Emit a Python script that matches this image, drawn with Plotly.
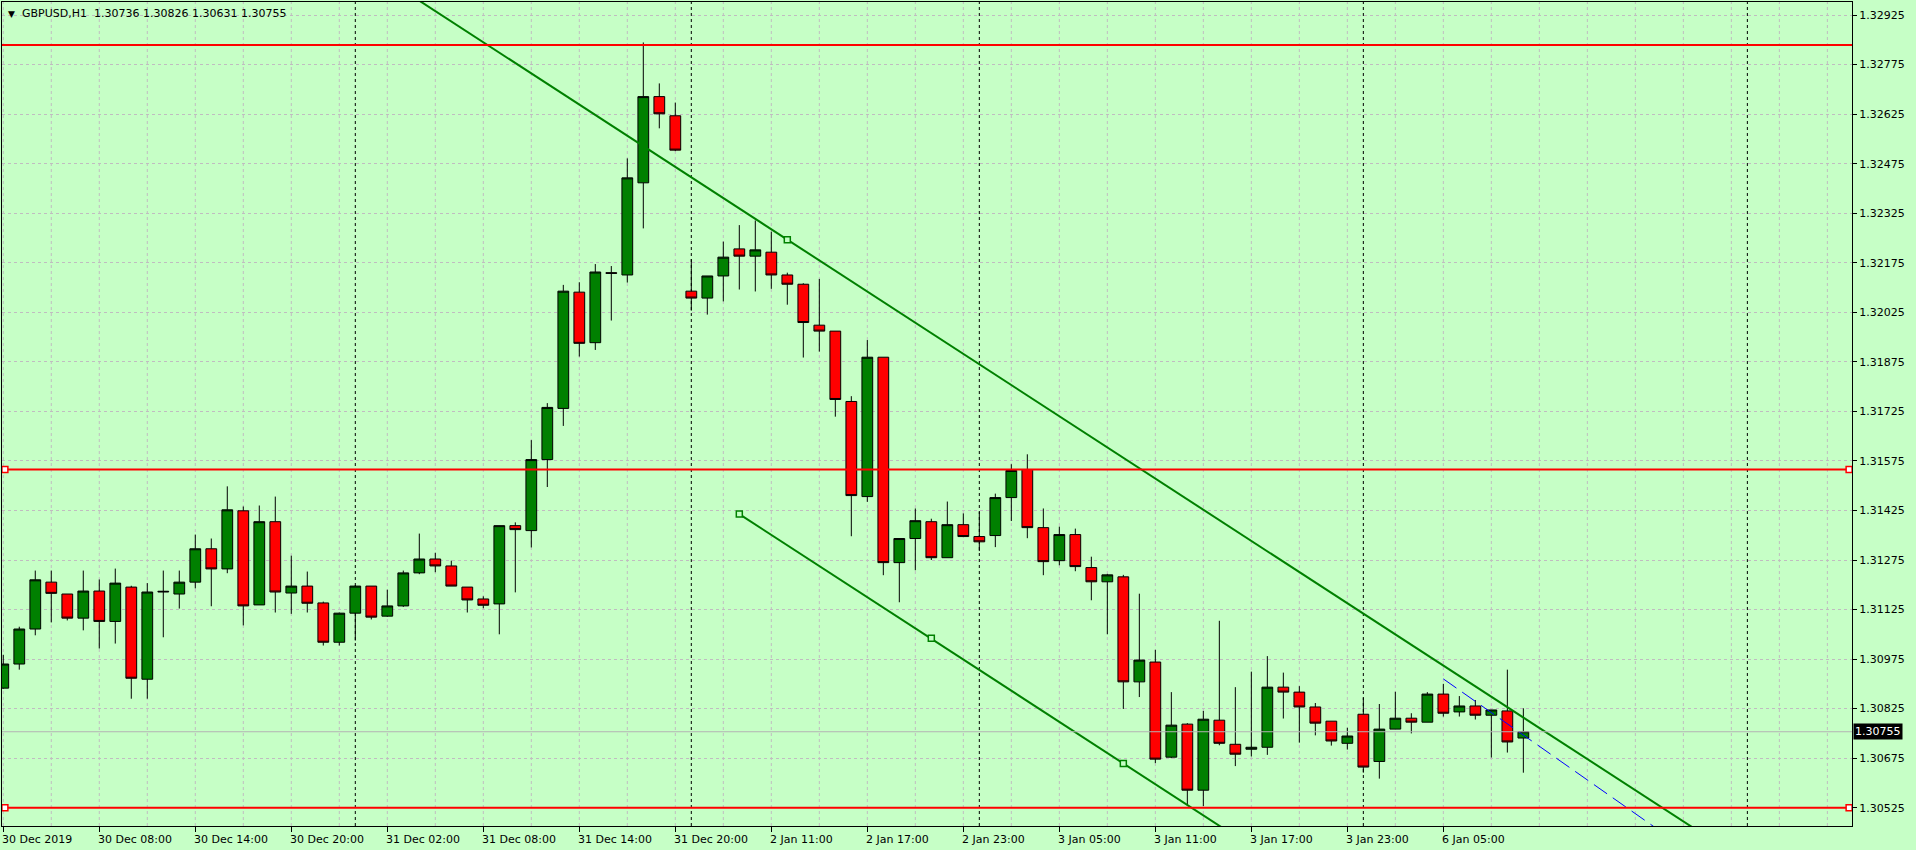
import plotly.graph_objects as go
import pandas as pd

# ---------------- data ----------------
symbol = "GBPUSD,H1"
# trading sessions: (first bar time, number of hourly bars)
sessions = [("2019-12-30 02:00", 22), ("2019-12-31 00:00", 21), ("2020-01-02 06:00", 18),
            ("2020-01-03 00:00", 24), ("2020-01-06 00:00", 11)]

open_ = [1.30887, 1.30960, 1.31066, 1.31208, 1.31172, 1.31099, 1.31181, 1.31089, 1.31193, 1.30914,
         1.31178, 1.31172, 1.31208, 1.31309, 1.31248, 1.31424, 1.31139, 1.31391, 1.31175, 1.31196,
         1.31145, 1.31026, 1.31114, 1.31196, 1.31105, 1.31136, 1.31236, 1.31278, 1.31257, 1.31193,
         1.31157, 1.31142, 1.31379, 1.31364, 1.31579, 1.31734, 1.32086, 1.31933, 1.32145, 1.32138,
         1.32417, 1.32678, 1.32620, 1.32089, 1.32068, 1.32135, 1.32217, 1.32195, 1.32207, 1.32138,
         1.32110, 1.31986, 1.31968, 1.31755, 1.31467, 1.31889, 1.31267, 1.31340, 1.31391, 1.31282,
         1.31382, 1.31346, 1.31349, 1.31464, 1.31549, 1.31373, 1.31273, 1.31352, 1.31252, 1.31209,
         1.31224, 1.30906, 1.30966, 1.30678, 1.30778, 1.30578, 1.30790, 1.30717, 1.30702, 1.30708,
         1.30890, 1.30875, 1.30830, 1.30787, 1.30720, 1.30808, 1.30665, 1.30763, 1.30796, 1.30784,
         1.30869, 1.30815, 1.30833, 1.30805, 1.30818, 1.30736]
high = [1.30988, 1.31073, 1.31243, 1.31243, 1.31172, 1.31243, 1.31216, 1.31249, 1.31197, 1.31205,
        1.31243, 1.31243, 1.31352, 1.31340, 1.31498, 1.31437, 1.31440, 1.31467, 1.31288, 1.31240,
        1.31149, 1.31116, 1.31199, 1.31196, 1.31185, 1.31243, 1.31355, 1.31297, 1.31273, 1.31193,
        1.31165, 1.31379, 1.31389, 1.31638, 1.31750, 1.32108, 1.32116, 1.32171, 1.32165, 1.32491,
        1.32842, 1.32718, 1.32660, 1.32186, 1.32135, 1.32239, 1.32289, 1.32303, 1.32269, 1.32145,
        1.32113, 1.32126, 1.31968, 1.31771, 1.31941, 1.31889, 1.31340, 1.31431, 1.31400, 1.31452,
        1.31416, 1.31421, 1.31476, 1.31565, 1.31595, 1.31431, 1.31376, 1.31370, 1.31285, 1.31233,
        1.31230, 1.31173, 1.31003, 1.30875, 1.30781, 1.30818, 1.31091, 1.30890, 1.30937, 1.30984,
        1.30934, 1.30893, 1.30842, 1.30787, 1.30767, 1.30858, 1.30839, 1.30876, 1.30811, 1.30875,
        1.30900, 1.30863, 1.30851, 1.30821, 1.30943, 1.30826]
low = [1.30885, 1.30943, 1.31047, 1.31086, 1.31092, 1.31062, 1.31007, 1.31022, 1.30855, 1.30855,
       1.31041, 1.31128, 1.31189, 1.31135, 1.31235, 1.31077, 1.31139, 1.31116, 1.31112, 1.31116,
       1.31016, 1.31016, 1.31031, 1.31095, 1.31103, 1.31133, 1.31232, 1.31238, 1.31196, 1.31116,
       1.31129, 1.31050, 1.31177, 1.31313, 1.31496, 1.31681, 1.31891, 1.31911, 1.32000, 1.32115,
       1.32279, 1.32582, 1.32513, 1.32030, 1.32018, 1.32058, 1.32094, 1.32088, 1.32096, 1.32048,
       1.31888, 1.31906, 1.31709, 1.31347, 1.31451, 1.31229, 1.31147, 1.31244, 1.31275, 1.31282,
       1.31346, 1.31302, 1.31314, 1.31393, 1.31341, 1.31229, 1.31259, 1.31241, 1.31153, 1.31050,
       1.30824, 1.30860, 1.30660, 1.30675, 1.30533, 1.30530, 1.30714, 1.30651, 1.30680, 1.30685,
       1.30795, 1.30722, 1.30744, 1.30713, 1.30701, 1.30631, 1.30613, 1.30763, 1.30750, 1.30784,
       1.30801, 1.30801, 1.30792, 1.30677, 1.30692, 1.30631]
close = [1.30960, 1.31066, 1.31215, 1.31174, 1.31099, 1.31181, 1.31089, 1.31205, 1.30917, 1.31178,
         1.31180, 1.31208, 1.31309, 1.31248, 1.31427, 1.31136, 1.31391, 1.31178, 1.31196, 1.31144,
         1.31026, 1.31114, 1.31196, 1.31102, 1.31136, 1.31236, 1.31278, 1.31257, 1.31196, 1.31154,
         1.31138, 1.31379, 1.31367, 1.31579, 1.31737, 1.32089, 1.31931, 1.32147, 1.32143, 1.32432,
         1.32678, 1.32626, 1.32516, 1.32068, 1.32135, 1.32192, 1.32195, 1.32214, 1.32138, 1.32110,
         1.31994, 1.31968, 1.31761, 1.31470, 1.31889, 1.31267, 1.31340, 1.31394, 1.31282, 1.31382,
         1.31346, 1.31330, 1.31464, 1.31546, 1.31373, 1.31270, 1.31352, 1.31255, 1.31209, 1.31230,
         1.30906, 1.30972, 1.30672, 1.30775, 1.30578, 1.30793, 1.30720, 1.30687, 1.30708, 1.30890,
         1.30875, 1.30830, 1.30781, 1.30727, 1.30742, 1.30648, 1.30763, 1.30796, 1.30784, 1.30869,
         1.30811, 1.30833, 1.30805, 1.30821, 1.30724, 1.30755]

# horizontal levels (price) and whether their anchor squares are shown
hlevels = [1.32834, 1.31549, 1.30525]
hlevel_anchors = [False, True, True]
# channel / trend lines: anchor bars and prices
upper_x = [49, 104]
upper_y = [1.32245, 1.30515]
lower_x = [46, 58, 70]
lower_y = [1.31414, 1.31038, 1.30659]
blue_x = [90, 96]
blue_y = [1.30915, 1.30711]

# axis settings
y_step = 0.0015
y_first_tick = 1.30525
y_last_tick = 1.32925
label_every = 6
grid_every = 3

# ---------------- derived ----------------
times = []
for start, n in sessions:
    times += list(pd.date_range(start, periods=n, freq="h"))
n_bars = len(times)
xs = list(range(n_bars))

X0, X1 = -0.08, 115.54
Y0, Y1 = 1.304696, 1.329645

# future hourly times for day separators beyond the last bar
future = list(pd.date_range(times[-1], periods=int(X1) - n_bars + 3, freq="h"))[1:]
all_times = times + future
separators = [i for i in range(1, len(all_times)) if all_times[i].date() != all_times[i - 1].date() and i <= X1]

label_idx = list(range(0, n_bars, label_every))
def fmt(i):
    t = times[i]
    if i == 0:
        return f"{t.day} {t:%b %Y}"
    return f"{t.day} {t:%b %H:%M}"

BG = "#C6FFC6"
GRID = "#C0BCC0"
GREEN = "#008000"
FONT = "DejaVu Sans"

def extend(xa, ya, x_from, x_to):
    m = (ya[-1] - ya[0]) / (xa[-1] - xa[0])
    return [x_from, x_to], [ya[0] + m * (x_from - xa[0]), ya[0] + m * (x_to - xa[0])]

fig = go.Figure()

# trend / channel lines
ux, uy = extend(upper_x, upper_y, X0 - 30, X1 + 10)
fig.add_trace(go.Scatter(x=ux, y=uy, mode="lines", line=dict(color=GREEN, width=2), hoverinfo="skip"))
lx, ly = extend(lower_x, lower_y, lower_x[0], X1 + 10)
fig.add_trace(go.Scatter(x=lx, y=ly, mode="lines", line=dict(color=GREEN, width=2), hoverinfo="skip"))
bx, by = extend(blue_x, blue_y, blue_x[0], X1 + 10)
fig.add_trace(go.Scatter(x=bx, y=by, mode="lines", line=dict(color="#0000FF", width=1, dash="16px,7px"),
                         hoverinfo="skip"))

# horizontal levels
for lvl in hlevels:
    fig.add_trace(go.Scatter(x=[X0 - 1, X1 + 1], y=[lvl, lvl], mode="lines",
                             line=dict(color="#FF0000", width=2), hoverinfo="skip"))
# current bid line
fig.add_trace(go.Scatter(x=[X0 - 1, X1 + 1], y=[close[-1], close[-1]], mode="lines",
                         line=dict(color="#B4B4B4", width=1), hoverinfo="skip"))

# candles
fig.add_trace(go.Candlestick(
    x=xs, open=open_, high=high, low=low, close=close,
    increasing=dict(fillcolor=GREEN, line=dict(color="black", width=1)),
    decreasing=dict(fillcolor="#FF0000", line=dict(color="black", width=1)),
    whiskerwidth=0, hoverinfo="skip"))

# anchor squares
sq_x, sq_y = [], []
for lvl, a in zip(hlevels, hlevel_anchors):
    if a:
        sq_x += [X0 + 0.18, X1 - 0.18]
        sq_y += [lvl, lvl]
fig.add_trace(go.Scatter(x=sq_x, y=sq_y, mode="markers", cliponaxis=False,
                         marker=dict(symbol="square", size=6, color="white",
                                     line=dict(color="#FF0000", width=1.5)), hoverinfo="skip"))
fig.add_trace(go.Scatter(x=[upper_x[0]] + lower_x, y=[upper_y[0]] + lower_y, mode="markers",
                         marker=dict(symbol="square", size=6, color=BG,
                                     line=dict(color=GREEN, width=1.5)), hoverinfo="skip"))

shapes = []
# vertical grid
g = 0
while g <= X1:
    shapes.append(dict(type="line", xref="x", yref="paper", x0=g, x1=g, y0=0, y1=1, layer="below",
                       line=dict(color=GRID, width=1, dash="3px,3px")))
    g += grid_every
# day separators
for s in separators:
    shapes.append(dict(type="line", xref="x", yref="paper", x0=s, x1=s, y0=0, y1=1, layer="below",
                       line=dict(color="black", width=1, dash="3px,3px")))

annotations = []
for i in label_idx:
    annotations.append(dict(x=i, xref="x", y=0, yref="paper", text=fmt(i), showarrow=False,
                            xanchor="left", yanchor="top", xshift=-3, yshift=-5,
                            font=dict(family=FONT, size=11, color="black")))
annotations.append(dict(x=0, xref="paper", y=1, yref="paper", xanchor="left", yanchor="top",
                        text="▼", showarrow=False, xshift=4, yshift=-5,
                        font=dict(family=FONT, size=9, color="black")))
annotations.append(dict(x=0, xref="paper", y=1, yref="paper", xanchor="left", yanchor="top",
                        text=f"{symbol}  {open_[-1]:.5f} {high[-1]:.5f} {low[-1]:.5f} {close[-1]:.5f}",
                        showarrow=False, xshift=18, yshift=-3,
                        font=dict(family=FONT, size=11, color="black")))
annotations.append(dict(x=1, xref="paper", y=close[-1], yref="y", xanchor="left", yanchor="middle",
                        text=f"{close[-1]:.5f}", showarrow=False, xshift=1, bgcolor="black",
                        borderpad=1, font=dict(family=FONT, size=11, color="white")))

yt = []
v = y_first_tick
while v <= y_last_tick + 1e-9:
    yt.append(round(v, 5))
    v += y_step

fig.update_layout(
    width=1916, height=850,
    margin=dict(l=2, r=64, t=2, b=24),
    paper_bgcolor=BG, plot_bgcolor=BG,
    showlegend=False,
    boxgap=0.16, boxgroupgap=0.2,
    shapes=shapes, annotations=annotations,
    font=dict(family=FONT, size=11, color="black"),
    xaxis=dict(range=[X0, X1], rangeslider=dict(visible=False), showgrid=False, zeroline=False,
               tickvals=label_idx, showticklabels=False, ticks="outside", ticklen=5, tickcolor="black",
               showline=True, linecolor="black", linewidth=1, mirror=True),
    yaxis=dict(range=[Y0, Y1], side="right", tickvals=yt, ticktext=[f"{t:.5f}" for t in yt],
               showgrid=True, gridcolor=GRID, griddash="3px,3px", gridwidth=1, zeroline=False,
               ticks="outside", ticklen=4, tickcolor="black",
               showline=True, linecolor="black", linewidth=1, mirror=True,
               tickfont=dict(family=FONT, size=11, color="black")),
)

fig.write_html(
    "out.html",
    config={"displayModeBar": False},
    post_script="document.body.style.margin='0px';document.body.style.padding='0px';"
                "document.documentElement.style.overflow='hidden';",
)
